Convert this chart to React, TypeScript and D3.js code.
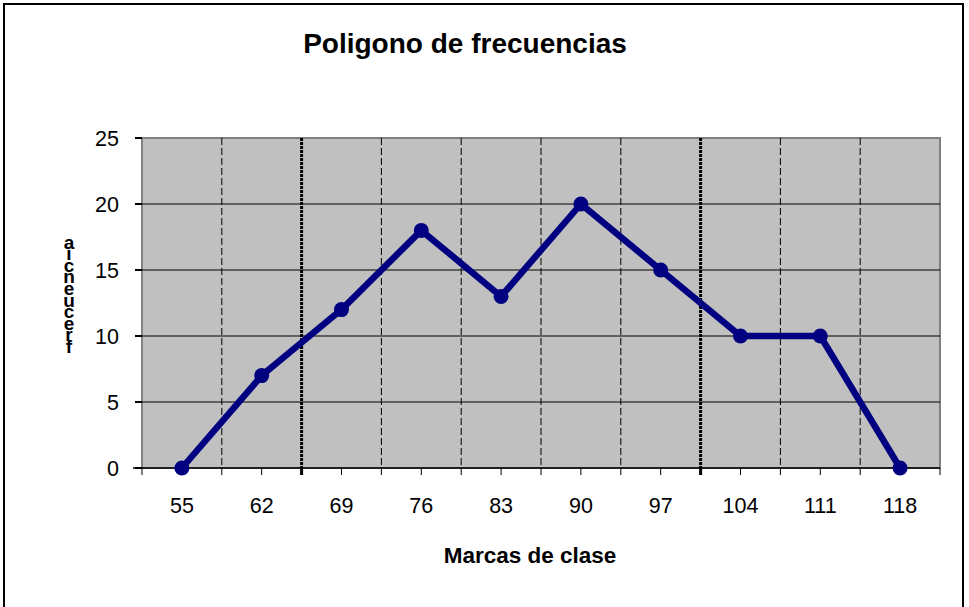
import * as d3 from "d3";

const categories = ["55", "62", "69", "76", "83", "90", "97", "104", "111", "118"];
const frequencies = [0, 7, 12, 18, 13, 20, 15, 10, 10, 0];
const yTicks = [0, 5, 10, 15, 20, 25];
const yTitle = "frecuencia";

const W = 969;
const H = 607;
const plot = { left: 142, right: 940, top: 138, bottom: 468 };
const font = "Arial, 'Liberation Sans', sans-serif";

export default function App() {
  const x = d3.scaleBand<string>().domain(categories).range([plot.left, plot.right]).padding(0);
  const y = d3.scaleLinear().domain([0, 25]).range([plot.bottom, plot.top]);
  const bw = x.bandwidth();

  // boundaries between categories (gridlines), plus half-band ticks
  const bounds = categories.map((c) => x(c)!).concat([plot.right]);
  const centers = categories.map((c) => x(c)! + bw / 2);

  const line = d3
    .line<number>()
    .x((_, i) => centers[i])
    .y((d) => y(d));

  return (
    <svg width={W} height={H} style={{ position: "absolute", left: 0, top: 0 }}>
      <rect x={0} y={0} width={W} height={H} fill="#fff" />
      <rect x={4} y={4} width={959} height={H + 10} fill="none" stroke="#000" strokeWidth={2} />

      <text x={465} y={53} textAnchor="middle" fontFamily={font} fontWeight="bold" fontSize={28}>
        Poligono de frecuencias
      </text>

      {/* plot area */}
      <rect
        x={plot.left}
        y={plot.top}
        width={plot.right - plot.left}
        height={plot.bottom - plot.top}
        fill="#c0c0c0"
        stroke="#808080"
        strokeWidth={2}
      />

      {yTicks.slice(1, -1).map((t) => (
        <line key={"h" + t} x1={plot.left} x2={plot.right} y1={y(t)} y2={y(t)} stroke="#000" strokeWidth={1} />
      ))}

      {bounds.slice(1, -1).map((b, i) => {
        const thick = i === 1 || i === 6;
        return (
          <line
            key={"v" + i}
            x1={b}
            x2={b}
            y1={plot.top}
            y2={plot.bottom}
            stroke="#000"
            strokeWidth={thick ? 3 : 1}
            strokeDasharray={thick ? "3,1" : "7,3"}
          />
        );
      })}

      {/* axes */}
      <line x1={133} x2={plot.right} y1={plot.bottom} y2={plot.bottom} stroke="#000" strokeWidth={1.5} />
      {yTicks.map((t) => (
        <g key={"yt" + t}>
          <line x1={135} x2={plot.left} y1={y(t)} y2={y(t)} stroke="#000" strokeWidth={2} />
          <text x={119} y={y(t) + 7.5} textAnchor="end" fontFamily={font} fontSize={21.5}>
            {t}
          </text>
        </g>
      ))}
      {bounds.concat(centers).map((b, i) => (
        <line key={"xt" + i} x1={b} x2={b} y1={plot.bottom} y2={plot.bottom + 7} stroke="#000" strokeWidth={b === bounds[2] || b === bounds[7] ? 3 : 1} />
      ))}
      {categories.map((c, i) => (
        <text key={"xl" + c} x={centers[i]} y={513} textAnchor="middle" fontFamily={font} fontSize={21.5}>
          {c}
        </text>
      ))}

      <text x={530} y={563} textAnchor="middle" fontFamily={font} fontWeight="bold" fontSize={22.5}>
        Marcas de clase
      </text>

      {/* stacked y title, letters bottom to top */}
      <text textAnchor="middle" fontFamily={font} fontWeight="bold" fontSize={19}>
        {yTitle.split("").map((ch, i) => (
          <tspan key={"yl" + i} x={69} y={353 - i * 11.6}>
            {ch}
          </tspan>
        ))}
      </text>

      {/* series */}
      <path d={line(frequencies)!} fill="none" stroke="#000080" strokeWidth={6.5} strokeLinejoin="round" />
      {frequencies.map((v, i) => (
        <circle key={"m" + i} cx={centers[i]} cy={y(v)} r={7.5} fill="#000080" />
      ))}
    </svg>
  );
}
